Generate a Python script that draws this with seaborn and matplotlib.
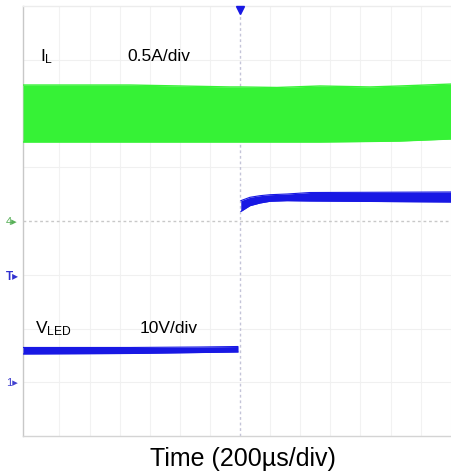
import numpy as np
import pandas as pd
import matplotlib
matplotlib.use("Agg")
import matplotlib.pyplot as plt
import seaborn as sns

# ---- trace data (time in µs, inductor current in A, LED voltage in V) ----
il_t = [-1442, -731, -66, 0, 246, 532, 864, 1063, 1402]
il_upper = [1.265, 1.265, 1.247, 1.247, 1.242, 1.256, 1.247, 1.256, 1.274]
il_lower = [0.735, 0.735, 0.735, 0.735, 0.735, 0.735, 0.740, 0.744, 0.763]

vled_pre_t = [-1442, -731, -266, -13]
vled_pre_upper = [6.47, 6.47, 6.56, 6.65]
vled_pre_lower = [5.26, 5.35, 5.53, 5.63]

vled_post_t = [5, 66, 133, 199, 312, 465, 1402]
vled_post_upper = [33.78, 34.41, 34.71, 34.89, 35.02, 35.30, 35.40]
vled_post_lower = [31.77, 32.85, 33.35, 33.67, 33.78, 33.72, 33.53]

# scope settings
time_per_div = 200        # µs/div
il_scale = 0.5            # A/div
il_offset = 0.0           # divisions (channel 4 marker)
vled_scale = 10           # V/div
vled_offset = -3.0        # divisions (channel 1 marker)

labels_il = (r"$\mathregular{I_L}$", "0.5A/div")
labels_vled = (r"$\mathregular{V_{LED}}$", "10V/div")
xlabel = "Time (200µs/div)"

GREEN = "#36f236"
BLUE = "#1818e4"

sns.set_theme(style="white")
plt.rcParams["font.family"] = ["Liberation Sans", "DejaVu Sans"]

W, H = 451, 477
fig = plt.figure(figsize=(W / 100, H / 100), dpi=100)
fig.patch.set_facecolor("white")
ax = fig.add_axes([23 / W, (H - 437) / H, (W - 23) / W, 430 / H])
ax.set_facecolor("white")

def il_div(v):
    return np.asarray(v) / il_scale + il_offset

def vled_div(v):
    return np.asarray(v) / vled_scale + vled_offset

# screen graticule
x_min, x_max = -1442, 1402
for gx in np.arange(-1200, 1401, time_per_div):
    if gx != 0:
        ax.axvline(gx, color="#f2f2f2", lw=0.8, zorder=0)
for gy in range(-3, 4):
    if gy != 0:
        ax.axhline(gy, color="#f0f0f0", lw=0.8, zorder=0)
ax.axvline(0, color="#c4c4d8", lw=1.0, ls=(0, (2, 2)), zorder=1)
ax.axhline(0, color="#c8c8c8", lw=1.0, ls=(0, (2, 2)), zorder=1)

# inductor current band
il_df = pd.DataFrame({"t": il_t, "upper": il_div(il_upper), "lower": il_div(il_lower)})
ax.fill_between(il_df["t"], il_df["lower"], il_df["upper"], color=GREEN, lw=0, zorder=3)
sns.lineplot(data=il_df, x="t", y="upper", ax=ax, color=GREEN, lw=1, zorder=3)
sns.lineplot(data=il_df, x="t", y="lower", ax=ax, color=GREEN, lw=1, zorder=3)

# LED voltage before and after the step
for tt, up, lo in [(vled_pre_t, vled_pre_upper, vled_pre_lower),
                   (vled_post_t, vled_post_upper, vled_post_lower)]:
    df = pd.DataFrame({"t": tt, "upper": vled_div(up), "lower": vled_div(lo)})
    ax.fill_between(df["t"], df["lower"], df["upper"], color=BLUE, lw=0, zorder=4)
    sns.lineplot(data=df, x="t", y="upper", ax=ax, color=BLUE, lw=0.8, zorder=4)
    sns.lineplot(data=df, x="t", y="lower", ax=ax, color=BLUE, lw=0.8, zorder=4)

ax.set_xlim(x_min, x_max)
ax.set_ylim(-4, 4)
ax.set_xticks([])
ax.set_yticks([])
ax.set_xlabel("")
ax.set_ylabel("")
for side, col in [("left", "#c8c8c8"), ("bottom", "#d4d4d4"), ("top", "#ececec")]:
    ax.spines[side].set_color(col)
    ax.spines[side].set_linewidth(1.0)
ax.spines["right"].set_visible(False)

# trigger position marker
ax.plot([0], [3.93], marker="v", ms=5.5, color=BLUE, clip_on=False, zorder=6)

# channel annotations
ax.text(-1329, 2.99, labels_il[0], fontsize=12.5, color="black", va="baseline", ha="left")
ax.text(-751, 2.99, labels_il[1], fontsize=12.5, color="black", va="baseline", ha="left")
ax.text(-1362, -2.065, labels_vled[0], fontsize=12.5, color="black", va="baseline", ha="left")
ax.text(-664, -2.065, labels_vled[1], fontsize=12.5, color="black", va="baseline", ha="left")

# channel reference markers at the left edge
fig.text(12 / W, 1 - 222 / H, "4▸", fontsize=8, color="#58b058", ha="center", va="center")
fig.text(12 / W, 1 - 277 / H, "T▸", fontsize=8.5, color="#3030d0", ha="center", va="center",
         fontweight="bold")
fig.text(12 / W, 1 - 383 / H, "1▸", fontsize=8, color="#4040d0", ha="center", va="center")

fig.text(243 / W, 1 - 459 / H, xlabel, fontsize=18, color="black", ha="center", va="center")

fig.savefig("out.png", dpi=100, facecolor="white")
